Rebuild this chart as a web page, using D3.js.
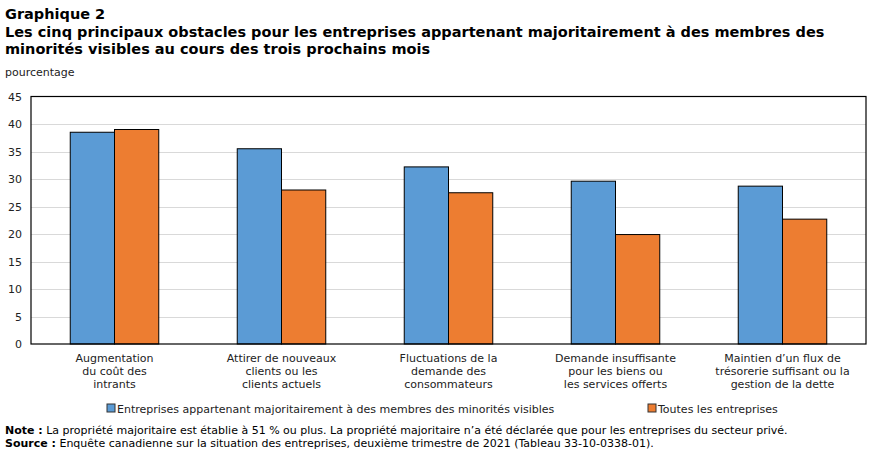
<!DOCTYPE html>
<html><head><meta charset="utf-8">
<script src="https://cdn.jsdelivr.net/npm/d3@7"></script>
<style>body{margin:0;background:#fff;} svg{display:block;font-family:"DejaVu Sans",Verdana,sans-serif;}</style>
</head><body>
<svg id="c" width="877" height="454"></svg>
<script>
const categories = [
  ["Augmentation","du coût des","intrants"],
  ["Attirer de nouveaux","clients ou les","clients actuels"],
  ["Fluctuations de la","demande des","consommateurs"],
  ["Demande insuffisante","pour les biens ou","les services offerts"],
  ["Maintien d\u2019un flux de","trésorerie suffisant ou la","gestion de la dette"]
];
const seriesNames = ["Entreprises appartenant majoritairement à des membres des minorités visibles","Toutes les entreprises"];
const minorites = [38.5, 35.5, 32.2, 29.6, 28.7];
const toutes = [39.0, 28.0, 27.5, 19.9, 22.7];
const yTicks = [0,5,10,15,20,25,30,35,40,45];
const colors = ["#5b9bd5","#ed7d31"];

const svg = d3.select("#c");
const m = {l:31, r:866, t:96.5, b:344};
const x0 = d3.scaleBand().domain(d3.range(categories.length)).range([m.l,m.r]).paddingInner(0).paddingOuter(0);
const x1 = d3.scaleBand().domain([0,1]).range([0, x0.bandwidth()*0.53]);
const y = d3.scaleLinear().domain([0,45]).range([m.b,m.t]);

// titles
const t = svg.append("g").attr("font-weight","bold").attr("font-size",14.5).attr("fill","#000");
t.append("text").attr("x",5).attr("y",19).text("Graphique 2");
t.append("text").attr("x",5).attr("y",37).text("Les cinq principaux obstacles pour les entreprises appartenant majoritairement à des membres des");
t.append("text").attr("x",5).attr("y",54).text("minorités visibles au cours des trois prochains mois");
svg.append("text").attr("x",5).attr("y",76).attr("font-size",11).attr("fill","#222").text("pourcentage");

// gridlines
svg.append("g").selectAll("line").data(yTicks.filter(d=>d>0 && d<45)).join("line")
  .attr("x1",m.l).attr("x2",m.r).attr("y1",d=>Math.round(y(d))+0.5).attr("y2",d=>Math.round(y(d))+0.5)
  .attr("stroke","#d9d9d9").attr("stroke-width",1);

// y axis labels
const yAxis = d3.axisLeft(y).tickValues(yTicks).tickSize(0).tickPadding(9);
const ya = svg.append("g").attr("transform",`translate(${m.l},0)`).call(yAxis);
ya.select(".domain").remove();
ya.selectAll("text").attr("font-size",11).attr("fill","#222").attr("font-family","DejaVu Sans, sans-serif");

// bars
const data = categories.map((c,i)=>[minorites[i], toutes[i]]);
const groups = svg.append("g").selectAll("g").data(data).join("g")
  .attr("transform",(d,i)=>`translate(${x0(i)+ (x0.bandwidth()-x1.range()[1])/2},0)`);
groups.selectAll("rect").data(d=>d).join("rect")
  .attr("x",(d,j)=>x1(j)).attr("width",x1.bandwidth())
  .attr("y",d=>y(d)).attr("height",d=>y(0)-y(d))
  .attr("fill",(d,j)=>colors[j]).attr("stroke","#000").attr("stroke-width",1);

// frame
svg.append("rect").attr("x",m.l).attr("y",m.t).attr("width",m.r-m.l).attr("height",m.b-m.t)
  .attr("fill","none").attr("stroke","#000").attr("stroke-width",1.2);

// category labels
const cl = svg.append("g").attr("font-size",11).attr("fill","#222").attr("text-anchor","middle");
categories.forEach((lines,i)=>{
  const tx = cl.append("text").attr("x",x0(i)+x0.bandwidth()/2).attr("y",362);
  lines.forEach((ln,k)=>tx.append("tspan").attr("x",x0(i)+x0.bandwidth()/2).attr("dy",k?13:0).text(ln));
});

// legend
const lg = svg.append("g").attr("font-size",11).attr("fill","#222");
const legX = [107, 648];
seriesNames.forEach((n,j)=>{
  lg.append("rect").attr("x",legX[j]).attr("y",404).attr("width",8).attr("height",8).attr("fill",colors[j]).attr("stroke","#333");
  lg.append("text").attr("x",legX[j]+10).attr("y",413).text(n);
});

// notes
const nt = svg.append("g").attr("font-size",11).attr("fill","#000");
const n1 = nt.append("text").attr("x",5).attr("y",434);
n1.append("tspan").attr("font-weight","bold").text("Note :");
n1.append("tspan").text(" La propriété majoritaire est établie à 51 % ou plus. La propriété majoritaire n\u2019a été déclarée que pour les entreprises du secteur privé.");
const n2 = nt.append("text").attr("x",5).attr("y",447);
n2.append("tspan").attr("font-weight","bold").text("Source :");
n2.append("tspan").text(" Enquête canadienne sur la situation des entreprises, deuxième trimestre de 2021 (Tableau 33-10-0338-01).");
</script>
</body></html>
